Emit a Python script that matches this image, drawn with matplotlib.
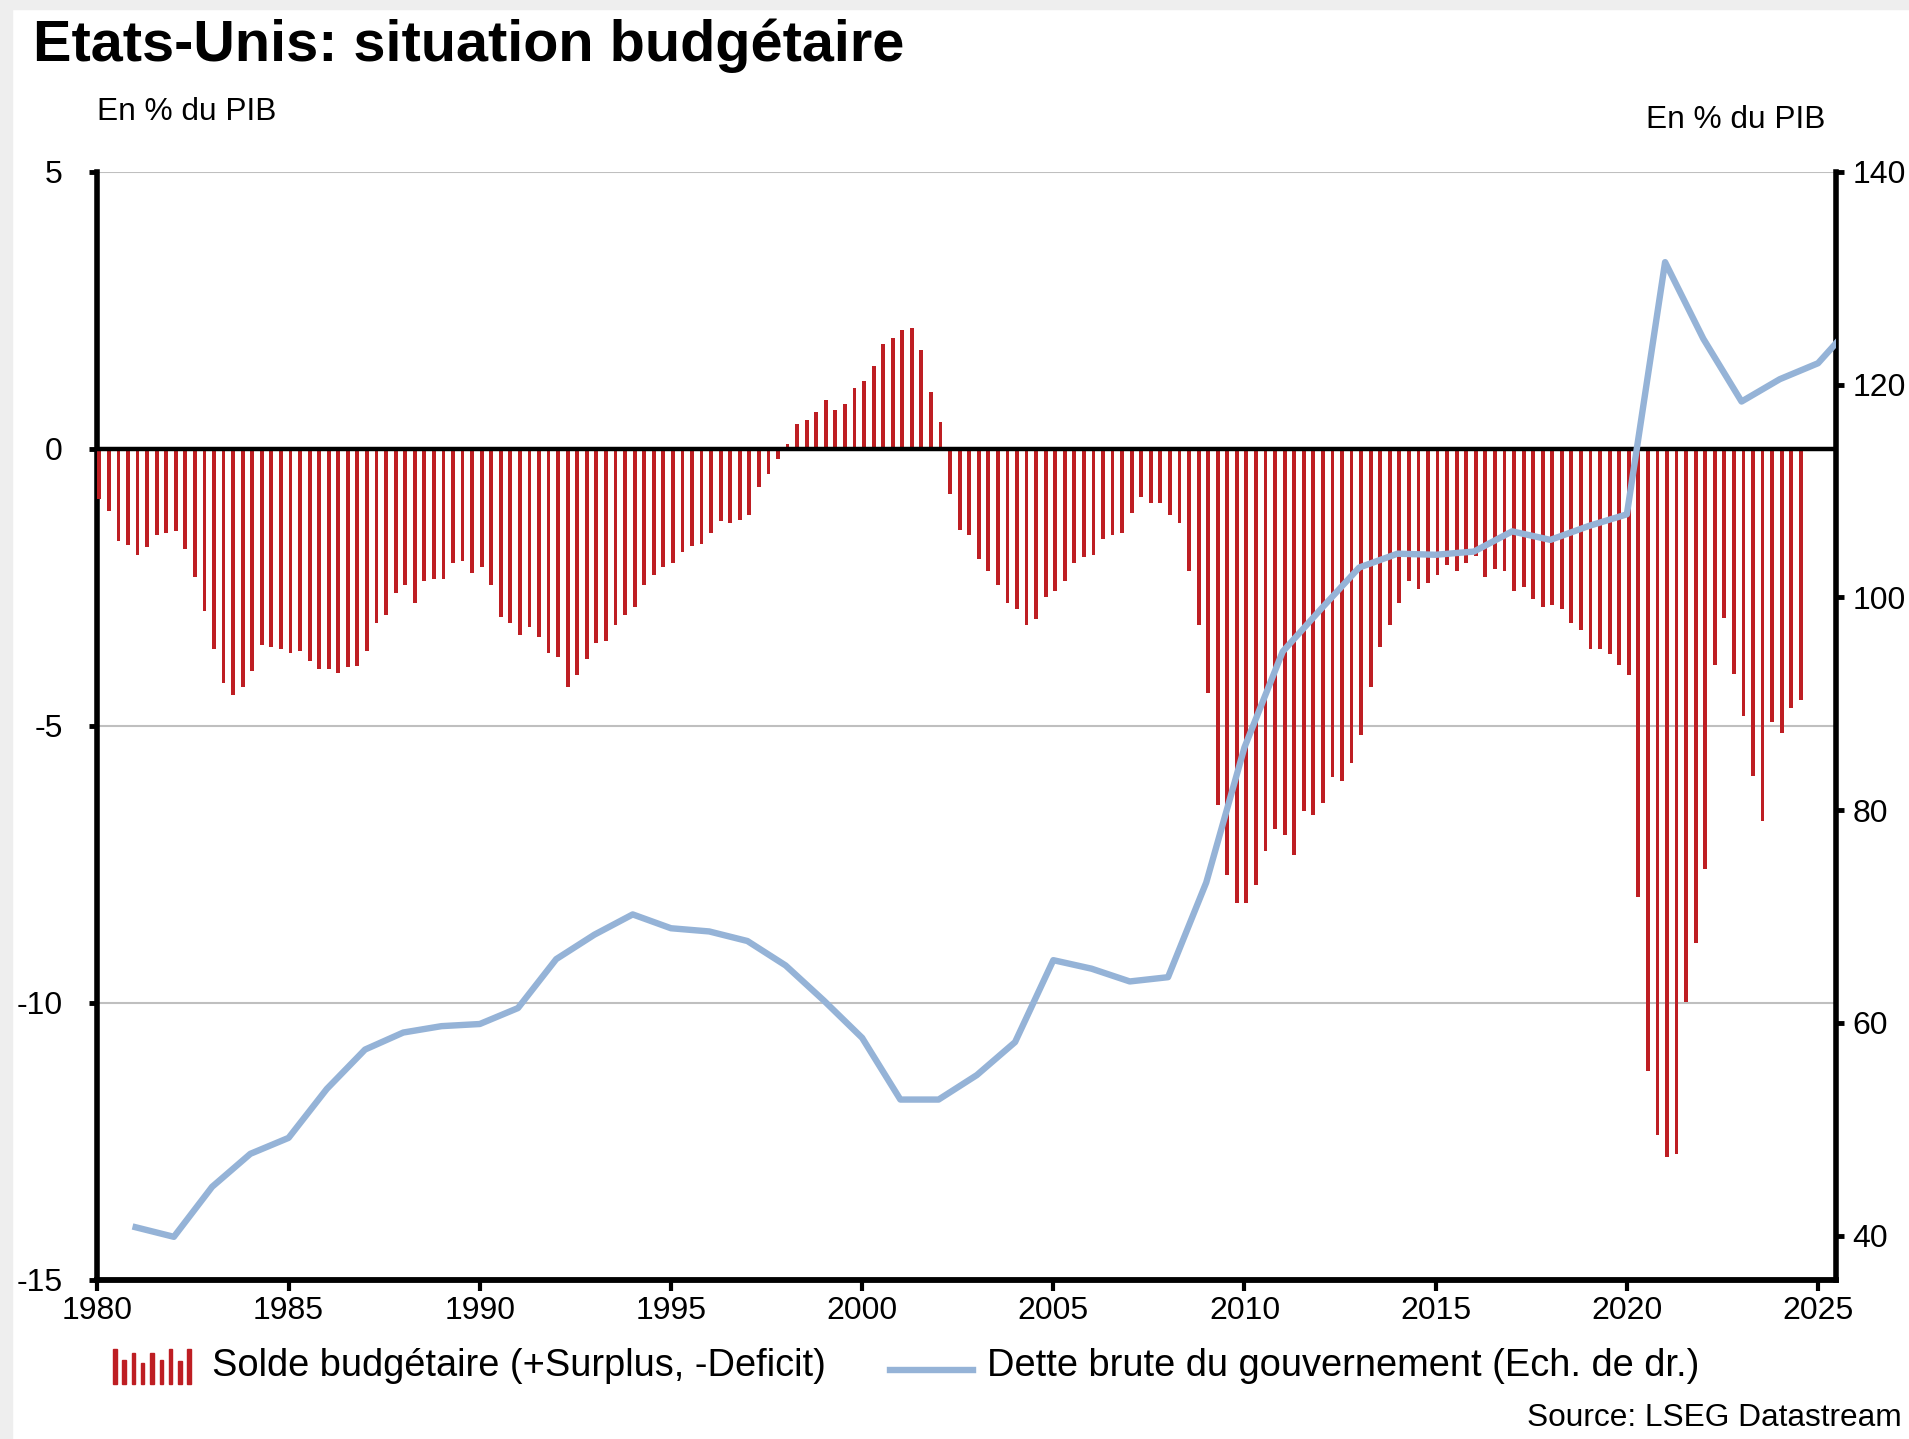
import numpy as np
import matplotlib
matplotlib.use("Agg")
import matplotlib.pyplot as plt
from matplotlib.lines import Line2D
from matplotlib.patches import Rectangle

# Solde budgetaire trimestriel (% du PIB), 1980T1 -> 2024T3
solde = [
    -0.90, -1.12, -1.67, -1.73, -1.92, -1.77, -1.55, -1.52, -1.49, -1.81,
    -2.32, -2.93, -3.61, -4.23, -4.45, -4.31, -4.01, -3.54, -3.58, -3.61,
    -3.69, -3.66, -3.84, -3.98, -3.98, -4.05, -3.94, -3.93, -3.66, -3.15,
    -3.00, -2.60, -2.46, -2.78, -2.39, -2.36, -2.36, -2.06, -2.03, -2.24,
    -2.13, -2.46, -3.04, -3.14, -3.36, -3.22, -3.40, -3.69, -3.76, -4.30,
    -4.08, -3.80, -3.51, -3.47, -3.18, -3.00, -2.86, -2.46, -2.28, -2.13,
    -2.06, -1.87, -1.76, -1.72, -1.53, -1.31, -1.35, -1.28, -1.20, -0.70,
    -0.45, -0.19, 0.08, 0.44, 0.51, 0.66, 0.87, 0.69, 0.80, 1.09,
    1.23, 1.49, 1.89, 1.99, 2.14, 2.17, 1.78, 1.02, 0.48, -0.81,
    -1.46, -1.55, -1.99, -2.20, -2.46, -2.78, -2.89, -3.18, -3.07, -2.67,
    -2.57, -2.39, -2.06, -1.95, -1.92, -1.63, -1.55, -1.52, -1.16, -0.87,
    -0.98, -0.98, -1.19, -1.34, -2.20, -3.18, -4.41, -6.43, -7.70, -8.20,
    -8.20, -7.88, -7.27, -6.87, -6.98, -7.34, -6.54, -6.61, -6.39, -5.93,
    -6.00, -5.67, -5.17, -4.30, -3.58, -3.18, -2.78, -2.39, -2.53, -2.42,
    -2.28, -2.10, -2.20, -2.06, -1.93, -2.31, -2.17, -2.20, -2.57, -2.49,
    -2.71, -2.85, -2.82, -2.89, -3.14, -3.27, -3.61, -3.61, -3.70, -3.90,
    -4.08, -8.10, -11.24, -12.39, -12.78, -12.74, -9.98, -8.93, -7.59, -3.90,
    -3.06, -4.07, -4.83, -5.91, -6.73, -4.93, -5.14, -4.68, -4.53,
]
premier_trimestre = 1980

# Dette brute du gouvernement (% du PIB), annuelle, tracee en fin d'annee
dette_annees = list(range(1980, 2026))
dette = [
    40.8, 39.9, 44.6, 47.7, 49.2, 53.8, 57.5, 59.1, 59.7, 59.9,
    61.4, 66.0, 68.3, 70.2, 68.9, 68.6, 67.7, 65.4, 62.1, 58.6,
    52.8, 52.8, 55.1, 58.2, 65.9, 65.1, 63.9, 64.3, 73.2, 85.9,
    94.9, 98.9, 102.8, 104.1, 104.0, 104.3, 106.2, 105.4, 106.7, 107.8,
    131.5, 124.3, 118.4, 120.5, 122.0, 126.0,
]

annees_ticks = list(range(1980, 2026, 5))
ticks_gauche = [-15, -10, -5, 0, 5]
ticks_droite = [40, 60, 80, 100, 120, 140]

titre = "Etats-Unis: situation budgétaire"
unite = "En % du PIB"
label_solde = "Solde budgétaire (+Surplus, -Deficit)"
label_dette = "Dette brute du gouvernement (Ech. de dr.)"
source = "Source: LSEG Datastream"

ROUGE = "#BE1E23"
BLEU = "#95B3D7"
GRIS = "#BFBFBF"

plt.rcParams['font.family'] = ['Liberation Sans', 'DejaVu Sans']
plt.rcParams['axes.unicode_minus'] = False

W, H = 1909, 1439
fig = plt.figure(figsize=(W / 100, H / 100), dpi=100)
fig.patch.set_facecolor("white")


def fx(px):
    return px / W


def fy(py):
    return 1 - py / H


# leger ombrage en haut et a gauche
fig.add_artist(Rectangle((0, 0), fx(12), 1, transform=fig.transFigure,
                         color="#EEEEEE", zorder=0))
fig.add_artist(Rectangle((0, fy(9)), 1, 9 / H, transform=fig.transFigure,
                         color="#EEEEEE", zorder=0))

ax = fig.add_axes([fx(97.4), fy(1279.6), fx(1836 - 97.4), (1279.6 - 171.7) / H])
ax2 = ax.twinx()

# barres trimestrielles
x_barres = premier_trimestre + np.arange(len(solde)) / 4
ax.bar(x_barres, solde, width=0.1, align="edge", color=ROUGE, zorder=3)

for y in (5, -5, -10):
    ax.axhline(y, color=GRIS, lw=1.5, zorder=1)
ax.axhline(0, color="black", lw=3.2, zorder=4)

ax.set_xlim(1980, 2025.47)
ax.set_ylim(-15, 5)
ax.set_xticks(annees_ticks)
ax.set_yticks(ticks_gauche)
ax.set_yticklabels([str(t) for t in ticks_gauche])
ax.tick_params(axis="x", direction="out", length=8, width=3, labelsize=23, pad=4)
ax.tick_params(axis="y", direction="out", length=6, width=3.5, labelsize=23, pad=19)

# dette, echelle de droite
ax2.plot(np.array(dette_annees) + 1, dette, color=BLEU, lw=4.6, zorder=5)
ax2.set_ylim(35.88, 140)
ax2.set_yticks(ticks_droite)
ax2.tick_params(axis="y", direction="out", length=6, width=3.5, labelsize=23, pad=6)

for a in (ax, ax2):
    a.spines["top"].set_visible(False)
ax.spines["right"].set_visible(False)
ax2.spines["left"].set_visible(False)
ax2.spines["bottom"].set_visible(False)
ax.spines["left"].set_linewidth(4)
ax.spines["bottom"].set_linewidth(4.2)
ax2.spines["right"].set_linewidth(4)

# textes
fig.text(fx(33), fy(61), titre, fontsize=41.5, fontweight="bold", va="baseline")
fig.text(fx(97), fy(120.5), unite, fontsize=22.8, va="baseline")
fig.text(fx(1825), fy(128), unite, fontsize=22.8, va="baseline", ha="right")

# legende dessinee a la main
hauteurs = [1.0, 0.7, 0.9, 0.6, 0.9, 0.7, 1.0, 0.65, 1.0]
for i, h in enumerate(hauteurs):
    x0 = 113 + i * 9.3
    fig.add_artist(Rectangle((fx(x0), fy(1384)), 3.5 / W, h * 35 / H,
                             transform=fig.transFigure, color=ROUGE))
fig.text(fx(212), fy(1376), label_solde, fontsize=27.4, va="baseline")
fig.add_artist(Line2D([fx(890), fx(973)], [fy(1370), fy(1370)],
                      transform=fig.transFigure, color=BLEU, lw=4.6))
fig.text(fx(987), fy(1376), label_dette, fontsize=27.4, va="baseline")

fig.text(fx(1902), fy(1426), source, fontsize=22.8, va="baseline", ha="right")

fig.savefig("out.png", dpi=100)
